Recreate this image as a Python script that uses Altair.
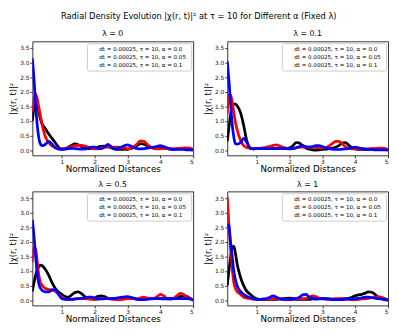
import altair as alt
import pandas as pd

X = [0.1, 0.15, 0.2, 0.25, 0.3, 0.35, 0.4, 0.5, 0.6, 0.7, 0.8, 0.9, 1.0, 1.1, 1.2, 1.3, 1.4, 1.5,
     1.6, 1.7, 1.8, 1.9, 2.0, 2.1, 2.2, 2.3, 2.4, 2.5, 2.6, 2.7, 2.8, 2.9, 3.0, 3.1, 3.2, 3.3,
     3.4, 3.5, 3.6, 3.7, 3.8, 3.9, 4.0, 4.1, 4.2, 4.3, 4.4, 4.5, 4.6, 4.7, 4.8, 4.9, 5.0]

LAMBDAS = ["0", "0.1", "0.5", "1"]
SERIES = ["dt = 0.00025,  τ = 10, α = 0.0",
          "dt = 0.00025,  τ = 10, α = 0.05",
          "dt = 0.00025,  τ = 10, α = 0.1"]
COLORS = ["black", "red", "blue"]

# lambda = 0
l0_a0 = [1.0, 1.45, 1.72, 1.6, 1.3, 1.05, 0.9, 0.72, 0.55, 0.4, 0.25, 0.1, 0.04, 0.05, 0.1, 0.17, 0.21, 0.18,
         0.12, 0.07, 0.05, 0.05, 0.06, 0.1, 0.13, 0.14, 0.12, 0.08, 0.04, 0.02, 0.02, 0.03, 0.02, 0.05, 0.1, 0.16,
         0.22, 0.2, 0.15, 0.1, 0.08, 0.1, 0.12, 0.1, 0.06, 0.03, 0.03, 0.04, 0.05, 0.06, 0.05, 0.04, 0.02]
l0_a05 = [1.3, 1.75, 1.93, 1.75, 1.45, 1.15, 0.85, 0.45, 0.25, 0.14, 0.08, 0.05, 0.04, 0.05, 0.08, 0.12, 0.15, 0.16,
          0.16, 0.14, 0.1, 0.06, 0.04, 0.05, 0.08, 0.1, 0.1, 0.1, 0.1, 0.1, 0.09, 0.07, 0.05, 0.06, 0.12, 0.22,
          0.32, 0.3, 0.2, 0.1, 0.05, 0.04, 0.04, 0.05, 0.05, 0.04, 0.04, 0.05, 0.06, 0.07, 0.08, 0.07, 0.02]
l0_a1 = [3.15, 2.45, 1.55, 0.85, 0.4, 0.2, 0.15, 0.2, 0.3, 0.2, 0.08, 0.03, 0.02, 0.03, 0.05, 0.06, 0.05, 0.04,
         0.03, 0.04, 0.07, 0.1, 0.1, 0.06, 0.05, 0.1, 0.2, 0.12, 0.04, 0.05, 0.1, 0.15, 0.18, 0.14, 0.08, 0.05,
         0.04, 0.05, 0.07, 0.08, 0.1, 0.13, 0.15, 0.12, 0.08, 0.04, 0.02, 0.02, 0.02, 0.02, 0.01, 0.01, 0.0]
# lambda = 0.1
l1_a0 = [0.3, 0.75, 1.2, 1.5, 1.58, 1.58, 1.52, 1.3, 0.85, 0.3, 0.07, 0.04, 0.05, 0.05, 0.06, 0.05, 0.05, 0.05,
         0.05, 0.05, 0.05, 0.06, 0.08, 0.15, 0.26, 0.24, 0.15, 0.07, 0.03, 0.01, 0.0, 0.01, 0.02, 0.03, 0.05, 0.07,
         0.1, 0.15, 0.24, 0.26, 0.17, 0.08, 0.04, 0.02, 0.02, 0.02, 0.03, 0.03, 0.03, 0.03, 0.03, 0.03, 0.02]
l1_a05 = [1.25, 1.9, 1.9, 1.65, 1.3, 0.95, 0.7, 0.35, 0.15, 0.08, 0.06, 0.05, 0.05, 0.06, 0.08, 0.1, 0.13, 0.16,
          0.18, 0.14, 0.1, 0.06, 0.04, 0.05, 0.08, 0.1, 0.1, 0.1, 0.1, 0.1, 0.09, 0.08, 0.07, 0.08, 0.14, 0.22,
          0.3, 0.3, 0.22, 0.12, 0.06, 0.04, 0.04, 0.05, 0.05, 0.04, 0.04, 0.05, 0.05, 0.06, 0.07, 0.06, 0.02]
l1_a1 = [3.05, 2.4, 1.6, 0.9, 0.45, 0.22, 0.2, 0.25, 0.4, 0.25, 0.06, 0.04, 0.05, 0.05, 0.05, 0.05, 0.05, 0.06,
         0.06, 0.05, 0.05, 0.05, 0.05, 0.05, 0.08, 0.12, 0.15, 0.12, 0.1, 0.12, 0.15, 0.15, 0.12, 0.08, 0.05, 0.03,
         0.02, 0.02, 0.03, 0.04, 0.06, 0.08, 0.1, 0.08, 0.05, 0.03, 0.02, 0.02, 0.01, 0.01, 0.01, 0.01, 0.0]
# lambda = 0.5
l5_a0 = [0.3, 0.6, 0.85, 1.05, 1.15, 1.2, 1.18, 1.05, 0.85, 0.6, 0.4, 0.28, 0.2, 0.12, 0.1, 0.18, 0.26, 0.28,
         0.22, 0.12, 0.06, 0.05, 0.08, 0.13, 0.15, 0.12, 0.07, 0.04, 0.04, 0.05, 0.06, 0.08, 0.1, 0.08, 0.05, 0.03,
         0.03, 0.04, 0.05, 0.05, 0.05, 0.05, 0.05, 0.04, 0.04, 0.04, 0.05, 0.08, 0.12, 0.15, 0.13, 0.07, 0.0]
l5_a05 = [1.3, 1.8, 1.75, 1.3, 0.85, 0.6, 0.5, 0.4, 0.36, 0.35, 0.3, 0.2, 0.1, 0.04, 0.03, 0.03, 0.04, 0.05,
          0.05, 0.05, 0.04, 0.03, 0.02, 0.03, 0.05, 0.05, 0.05, 0.04, 0.03, 0.02, 0.02, 0.03, 0.05, 0.05, 0.05, 0.05,
          0.08, 0.1, 0.07, 0.05, 0.06, 0.12, 0.2, 0.15, 0.06, 0.04, 0.06, 0.15, 0.23, 0.2, 0.12, 0.06, 0.0]
l5_a1 = [2.75, 2.2, 1.5, 0.9, 0.55, 0.4, 0.33, 0.28, 0.28, 0.35, 0.35, 0.2, 0.05, 0.03, 0.03, 0.03, 0.04, 0.05,
         0.06, 0.08, 0.1, 0.1, 0.07, 0.04, 0.04, 0.05, 0.05, 0.05, 0.06, 0.08, 0.1, 0.11, 0.12, 0.1, 0.06, 0.03,
         0.02, 0.02, 0.03, 0.04, 0.05, 0.05, 0.05, 0.05, 0.05, 0.05, 0.05, 0.05, 0.05, 0.05, 0.05, 0.04, 0.0]
# lambda = 1
l10_a0 = [0.5, 1.0, 1.45, 1.8, 1.85, 1.6, 1.25, 0.8, 0.5, 0.3, 0.2, 0.1, 0.05, 0.03, 0.03, 0.03, 0.03, 0.03,
          0.03, 0.04, 0.05, 0.06, 0.07, 0.05, 0.03, 0.03, 0.03, 0.03, 0.03, 0.04, 0.04, 0.05, 0.05, 0.05, 0.04, 0.03,
          0.03, 0.03, 0.04, 0.05, 0.06, 0.1, 0.15, 0.18, 0.2, 0.24, 0.28, 0.27, 0.2, 0.1, 0.05, 0.02, 0.0]
l10_a05 = [3.55, 2.6, 1.8, 1.1, 0.6, 0.4, 0.3, 0.2, 0.1, 0.07, 0.05, 0.03, 0.02, 0.02, 0.03, 0.03, 0.04, 0.05,
           0.05, 0.04, 0.03, 0.03, 0.03, 0.03, 0.04, 0.05, 0.05, 0.06, 0.1, 0.15, 0.12, 0.07, 0.04, 0.03, 0.03, 0.04,
           0.05, 0.05, 0.05, 0.04, 0.03, 0.02, 0.02, 0.03, 0.04, 0.05, 0.06, 0.08, 0.1, 0.12, 0.1, 0.06, 0.0]
l10_a1 = [2.6, 2.55, 2.0, 1.5, 1.0, 0.7, 0.5, 0.3, 0.2, 0.13, 0.08, 0.05, 0.03, 0.03, 0.04, 0.05, 0.1, 0.15,
          0.1, 0.05, 0.03, 0.03, 0.03, 0.04, 0.05, 0.1, 0.18, 0.2, 0.1, 0.05, 0.04, 0.04, 0.05, 0.05, 0.04, 0.03,
          0.02, 0.02, 0.02, 0.03, 0.04, 0.04, 0.05, 0.06, 0.08, 0.1, 0.1, 0.09, 0.07, 0.05, 0.04, 0.03, 0.0]

PANELS = [[l0_a0, l0_a05, l0_a1], [l1_a0, l1_a05, l1_a1],
          [l5_a0, l5_a05, l5_a1], [l10_a0, l10_a05, l10_a1]]

FONT = "DejaVu Sans"


def panel(lam, series_list):
    rows = []
    for name, ys in zip(SERIES, series_list):
        for xv, yv in zip(X, ys):
            rows.append({"x": xv, "y": yv, "s": name})
    df = pd.DataFrame(rows)
    return alt.Chart(df).mark_line(strokeWidth=2.8, interpolate="monotone", clip=True).encode(
        x=alt.X("x:Q", scale=alt.Scale(domain=[0.1, 5], nice=False, zero=False),
                axis=alt.Axis(values=[1, 2, 3, 4, 5], title="Normalized Distances", format="d",
                              titleFontSize=9, titlePadding=0)),
        y=alt.Y("y:Q", scale=alt.Scale(domain=[-0.18, 3.73], nice=False, zero=False),
                axis=alt.Axis(values=[0, 0.5, 1, 1.5, 2, 2.5, 3, 3.5], format=".1f",
                              title="|χ(r, t)|²", titleFontSize=8.5, titlePadding=2)),
        color=alt.Color("s:N", scale=alt.Scale(domain=SERIES, range=COLORS),
                        legend=alt.Legend(title=None, orient="top-right", offset=2,
                                          fillColor="white", strokeColor="#cccccc",
                                          padding=3, cornerRadius=2, labelFontSize=5.7,
                                          symbolType="circle", symbolSize=10, symbolStrokeWidth=0,
                                          rowPadding=1, labelLimit=300,
                                          labelFont=FONT)),
        order=alt.Order("x:Q"),
    ).properties(width=165, height=117,
                 title=alt.TitleParams(f"λ = {lam}", fontSize=8, fontWeight="normal", offset=3, font=FONT))


charts = [panel(l, s) for l, s in zip(LAMBDAS, PANELS)]
row1 = alt.hconcat(charts[0], charts[1], spacing=9).resolve_scale(color="independent")
row2 = alt.hconcat(charts[2], charts[3], spacing=9).resolve_scale(color="independent")
chart = alt.vconcat(row1, row2, spacing=6).resolve_scale(color="independent").properties(
    title=alt.TitleParams("Radial Density Evolution |χ(r, t)|² at τ = 10 for Different α (Fixed λ)",
                          fontSize=8.5, fontWeight="normal", font=FONT, anchor="middle", offset=10),
    padding={"left": 0, "top": 0, "right": 0, "bottom": 0},
).configure_view(stroke="#333333", strokeWidth=1).configure_axis(
    grid=False, domain=False, labelFontSize=6, titleFontWeight="normal",
    labelFont=FONT, titleFont=FONT, tickSize=2.5, tickColor="#333333", labelColor="#222222",
    titleColor="black", labelPadding=1
)

chart.save("out.html", embed_options={"renderer": "svg", "actions": False})
